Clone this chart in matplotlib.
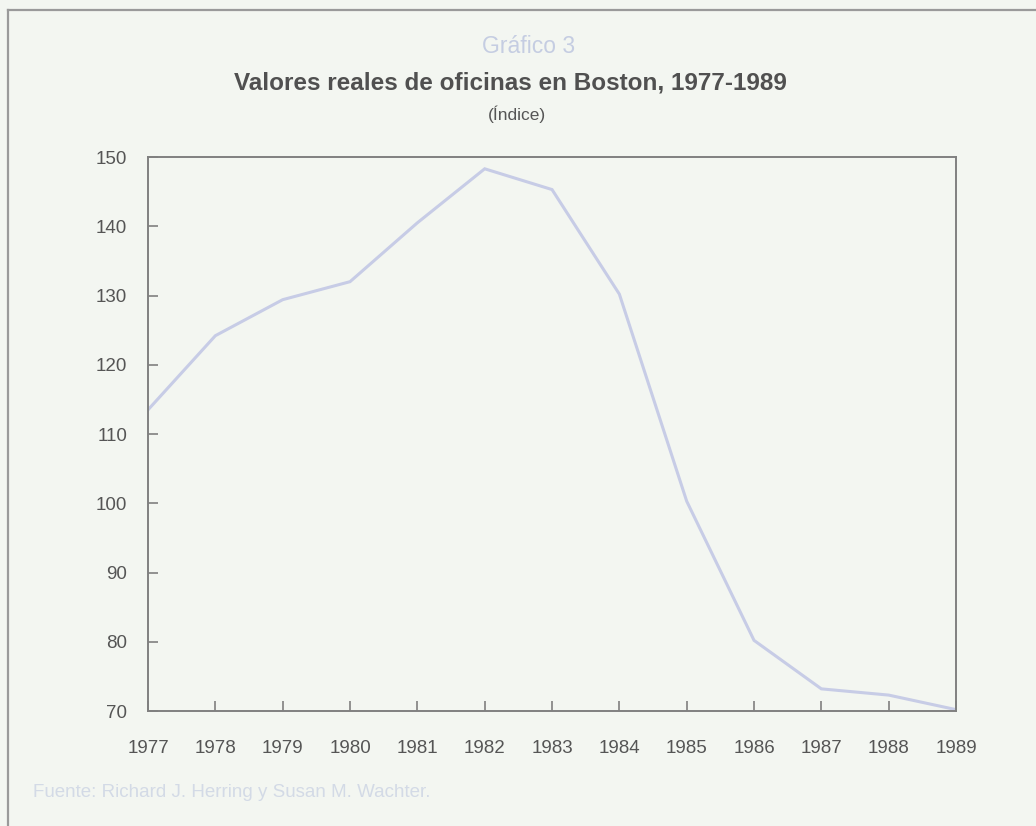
import matplotlib
matplotlib.use("Agg")
import matplotlib.pyplot as plt
from matplotlib.lines import Line2D

# datos
anios = [1977, 1978, 1979, 1980, 1981, 1982, 1983, 1984, 1985, 1986, 1987, 1988, 1989]
valores = [113.5, 124.2, 129.4, 132.0, 140.5, 148.3, 145.3, 130.2, 100.3, 80.2, 73.2, 72.3, 70.2]
yticks = [70, 80, 90, 100, 110, 120, 130, 140, 150]

fuente = "Liberation Sans"
fondo = "#f3f6f1"
gris = "#808080"
texto = "#555555"

fig = plt.figure(figsize=(10.36, 8.26), dpi=100, facecolor=fondo)
ax = fig.add_axes([0.1429, 0.1392, 0.7799, 0.6707], facecolor=fondo)

ax.plot(anios, valores, color="#c7cce6", lw=2.2, solid_joinstyle="miter")

ax.set_xlim(1977, 1989)
ax.set_ylim(70, 150)
ax.set_xticks(anios)
ax.set_yticks(yticks)
for s in ax.spines.values():
    s.set_color(gris)
    s.set_linewidth(1.4)
ax.tick_params(direction="in", length=7, width=1.2, color=gris, labelcolor=texto, labelsize=13.5)
ax.tick_params(axis="x", pad=21)
ax.tick_params(axis="y", pad=15)
for lab in ax.get_xticklabels() + ax.get_yticklabels():
    lab.set_family(fuente)

# títulos
fig.text(0.51, 0.944, "Gráfico 3", ha="center", va="center", fontsize=16.5, color="#c5cde2", family=fuente)
fig.text(0.493, 0.899, "Valores reales de oficinas en Boston, 1977-1989", ha="center", va="center",
         fontsize=17.5, fontweight="bold", color="#505050", family=fuente)
fig.text(0.499, 0.862, "(Índice)", ha="center", va="center", fontsize=12.5, color=texto, family=fuente)
fig.text(0.032, 0.040, "Fuente: Richard J. Herring y Susan M. Wachter.", ha="left", va="center",
         fontsize=13.5, color="#d3dae6", family=fuente)

# marco
fig.add_artist(Line2D([0.0075, 0.0075], [0.0, 0.988], transform=fig.transFigure, color="#9a9a9a", lw=1.6))
fig.add_artist(Line2D([0.0075, 1.0], [0.988, 0.988], transform=fig.transFigure, color="#9a9a9a", lw=1.6))

fig.savefig("out.png", dpi=100, facecolor=fondo)
